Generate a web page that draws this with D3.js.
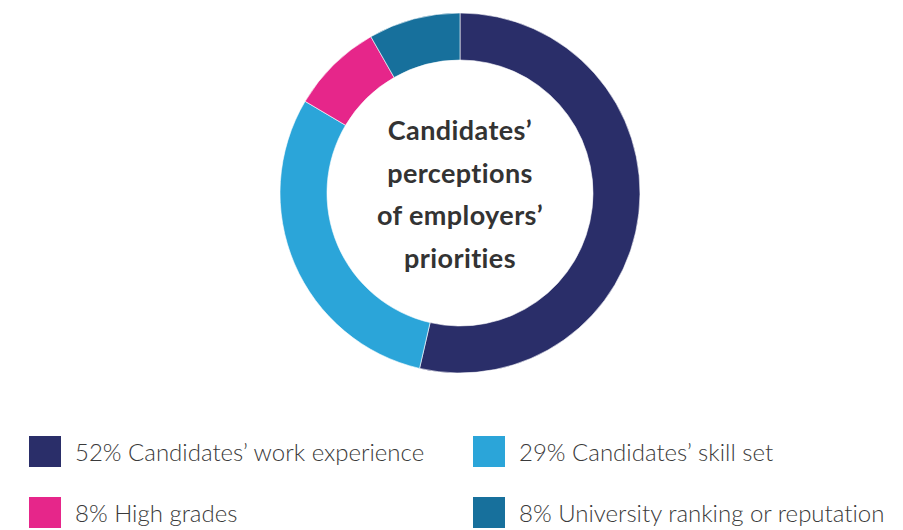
<!DOCTYPE html>
<html>
<head>
<meta charset="utf-8">
<script src="https://cdn.jsdelivr.net/npm/d3@7"></script>
<style>
  html, body { margin: 0; padding: 0; background: #ffffff; }
  svg { display: block; }
  text { font-variant-ligatures: none; font-feature-settings: "liga" 0, "clig" 0; }
</style>
</head>
<body>
<svg id="chart" width="903" height="530"></svg>
<script>
// Survey shares (percent) and their labels, in drawing order (clockwise from 12 o'clock)
const categories = [
  "Candidates’ work experience",
  "Candidates’ skill set",
  "High grades",
  "University ranking or reputation"
];
const shares = [52, 29, 8, 8];
const colours = ["#2a2e69", "#2ba5d9", "#e6268a", "#17709c"];
const titleLines = ["Candidates’", "perceptions", "of employers’", "priorities"];

const svg = d3.select("#chart");
const cx = 460, cy = 193;
const outerR = 180, innerR = 133;

const pie = d3.pie().sort(null).value(d => d.value);
const arc = d3.arc().innerRadius(innerR).outerRadius(outerR);
const data = categories.map((c, i) => ({ name: c, value: shares[i], colour: colours[i] }));

const ring = svg.append("g").attr("transform", `translate(${cx},${cy})`);
ring.selectAll("path")
  .data(pie(data))
  .join("path")
  .attr("d", arc)
  .attr("fill", d => d.data.colour)
  .attr("stroke", "#ffffff")
  .attr("stroke-width", 0.6);

// Centre title
const title = ring.append("text")
  .attr("text-anchor", "middle")
  .attr("font-family", "Lato, 'Open Sans', sans-serif")
  .attr("font-weight", 700)
  .attr("font-size", 27)
  .attr("letter-spacing", 0.4)
  .attr("fill", "#333333");
titleLines.forEach((line, i) => {
  title.append("tspan")
    .attr("x", 0)
    .attr("y", -53 + i * 42.7)
    .text(line);
});

// Legend: two columns, filled row by row
const legendX = [29, 473];
const legendY = [436, 497];
const sw = 32;
const legend = svg.append("g");
const items = legend.selectAll("g")
  .data(data)
  .join("g")
  .attr("transform", (d, i) => `translate(${legendX[i % 2]},${legendY[Math.floor(i / 2)]})`);
items.append("rect")
  .attr("width", sw)
  .attr("height", 31)
  .attr("fill", d => d.colour);
items.append("text")
  .attr("x", 46)
  .attr("y", 25)
  .attr("font-family", "Lato, 'Open Sans', sans-serif")
  .attr("font-weight", 300)
  .attr("font-size", 24)
  .attr("fill", "#3a3a3a")
  .text(d => `${d.value}% ${d.name}`);
</script>
</body>
</html>
